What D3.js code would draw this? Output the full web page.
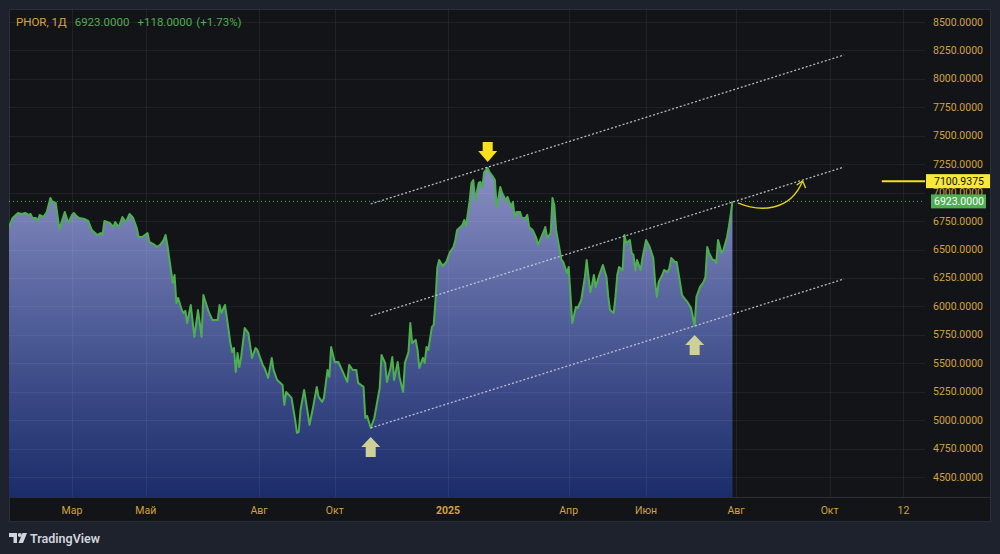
<!DOCTYPE html>
<html>
<head>
<meta charset="utf-8">
<script src="https://cdn.jsdelivr.net/npm/d3@7"></script>
<style>
  body { margin: 0; background: #1e222d; }
  svg { display: block; font-family: Roboto, "Noto Sans", sans-serif; }
</style>
</head>
<body>
<div id="chart"></div>
<script>
// PHOR daily chart with channel

// Data (bar index from the left edge, close price)

var bars = [0, 2, 5, 7, 9, 11, 12, 13, 15, 16, 17, 19, 21, 23, 24, 26, 28, 31, 33, 35, 36, 38, 39, 42, 44, 46, 49, 51, 52, 53,
    56, 58, 59, 61, 63, 65, 67, 69, 71, 72, 74, 77, 78, 81, 82, 84, 86, 87, 88, 91, 92, 93, 94, 96, 97, 98, 99, 101, 103, 105,
    106, 107, 108, 111, 113, 116, 117, 118, 120, 121, 123, 124, 125, 126, 127, 128, 129, 131, 133, 135, 137, 138, 141, 142, 144, 146, 147, 149, 152, 153,
    154, 157, 159, 160, 161, 162, 164, 166, 167, 169, 171, 172, 174, 175, 177, 178, 179, 181, 183, 185, 188, 189, 191, 193, 194, 197, 198, 199, 201, 203,
    206, 207, 209, 210, 212, 213, 214, 216, 217, 219, 220, 222, 223, 224, 226, 227, 228, 230, 231, 232, 233, 235, 236, 237, 238, 239, 241, 243, 245, 247,
    248, 249, 252, 253, 254, 256, 257, 258, 259, 261, 262, 263, 264, 266, 267, 269, 270, 271, 273, 274, 276, 277, 279, 280, 281, 282, 284, 285, 287, 288,
    289, 291, 293, 294, 297, 298, 299, 301, 302, 303, 304, 306, 307, 308, 310, 311, 313, 314, 315, 316, 318, 320, 321, 323, 324, 325, 326, 328, 330, 332,
    333, 334, 336, 337, 338, 339, 341, 342, 343, 345, 346, 347, 348, 349, 351, 352, 354, 356, 358, 359, 360, 361, 363, 364, 366, 367, 368, 370, 371, 374,
    376, 377, 379, 381, 382, 384, 386, 387, 388, 389, 391, 392, 393, 394, 396, 397, 399, 400, 401, 402];

var closes = [6698, 6777, 6821, 6812, 6821, 6804, 6812, 6777, 6777, 6751, 6804, 6786, 6830, 6953, 6923, 6909, 6680, 6830, 6733, 6804, 6821, 6786, 6777, 6768, 6751, 6672, 6628, 6645, 6628, 6751,
    6733, 6698, 6742, 6698, 6786, 6742, 6812, 6777, 6689, 6610, 6610, 6645, 6566, 6540, 6522, 6540, 6584, 6628, 6540, 6206, 6276, 6030, 6074, 5968, 5942, 5960, 5854, 6012, 5731, 5968,
    5854, 5731, 6100, 5951, 5881, 5881, 6012, 5942, 6012, 5907, 5678, 5599, 5634, 5423, 5590, 5467, 5555, 5810, 5766, 5547, 5634, 5617, 5485, 5459, 5371, 5547, 5441, 5353, 5309, 5133,
    5248, 5195, 5002, 4887, 4896, 5089, 5265, 5063, 4958, 5116, 5292, 5204, 5160, 5195, 5441, 5380, 5643, 5511, 5511, 5441, 5336, 5485, 5441, 5441, 5327, 5292, 5019, 5037, 4931, 5019,
    5283, 5573, 5503, 5336, 5459, 5555, 5353, 5511, 5380, 5248, 5503, 5599, 5854, 5678, 5705, 5617, 5459, 5547, 5503, 5643, 5617, 5819, 5837, 6056, 6338, 6408, 6355, 6390, 6478, 6522,
    6584, 6672, 6716, 6760, 6707, 6935, 7085, 7111, 6935, 7085, 7094, 7041, 7181, 7217, 7181, 7138, 7111, 6865, 7050, 6997, 6935, 6962, 6874, 6918, 6786, 6830, 6830, 6777, 6777, 6804,
    6698, 6672, 6601, 6540, 6654, 6698, 6601, 6645, 6953, 6891, 6672, 6496, 6408, 6390, 6294, 6346, 5854, 5925, 5995, 5986, 6056, 6259, 6408, 6127, 6188, 6276, 6171, 6276, 6364, 6259,
    6083, 5968, 5942, 6083, 6276, 6346, 6320, 6628, 6557, 6584, 6470, 6452, 6320, 6408, 6320, 6426, 6584, 6522, 6426, 6215, 6083, 6215, 6276, 6320, 6302, 6338, 6426, 6390, 6390, 6100,
    6056, 6039, 5986, 5828, 6083, 6171, 6215, 6259, 6522, 6470, 6408, 6408, 6382, 6584, 6470, 6496, 6610, 6700, 6805, 6923];

var priceTicks = [4500, 4750, 5000, 5250, 5500, 5750, 6000, 6250, 6500, 6750, 7000, 7250, 7500, 7750, 8000, 8250, 8500];
var timeTicks = [35, 76, 139, 181, 244, 311, 354, 404, 456, 497];
var timeLabels = ["Мар", "Май", "Авг", "Окт", "2025", "Апр", "Июн", "Авг", "Окт", "12"];

// Channel drawn on the chart (start / end bar, prices)
var channelBars = [201, 464];
var upperLine = [6900, 8210];
var middleLine = [5916, 7225];
var lowerLine = [4931, 6241];

var lastPrice = 6923;
var change = 118;
var changePct = 1.73;
var levelPrice = 7100.9375;
var levelStartBar = 485;

// Marker anchors
var downArrow = {bar: 266, price: 7269};
var upArrows = [{bar: 201, price: 4852}, {bar: 381, price: 5749}];
var curveBars = [405, 417, 434, 441];
var curvePrices = [6909, 6830, 6830, 7102];

// Chart variables

var width = 1000;
var height = 554;
var pane = {left: 9, top: 9, right: 925, bottom: 497};

var gold = "#d1a33f";
var green = "#4caf50";

var svg = d3.select("#chart")
    .append("svg")
    .attr("width", width)
    .attr("height", height);

svg.append("rect")
    .attr("width", width)
    .attr("height", height)
    .attr("fill", "#1e222d");

// Chart frame
svg.append("rect")
    .attr("x", 9.5)
    .attr("y", 9.5)
    .attr("width", 981)
    .attr("height", 512)
    .attr("fill", "#131417")
    .attr("stroke", "#2a2e39");

var defs = svg.append("defs");

defs.append("clipPath")
    .attr("id", "pane-clip")
    .append("rect")
    .attr("x", pane.left)
    .attr("y", pane.top)
    .attr("width", pane.right - pane.left)
    .attr("height", pane.bottom - pane.top);

var grad = defs.append("linearGradient")
    .attr("id", "area-grad")
    .attr("gradientUnits", "userSpaceOnUse")
    .attr("x1", 0).attr("x2", 0)
    .attr("y1", 165).attr("y2", pane.bottom);
grad.append("stop").attr("offset", "0%").attr("stop-color", "#8a8fc4");
grad.append("stop").attr("offset", "50%").attr("stop-color", "#4d5b96");
grad.append("stop").attr("offset", "100%").attr("stop-color", "#1b2c6a");

// Scales

var x = d3.scaleLinear()
    .domain([0, 509])
    .range([pane.left, pane.right]);

var y = d3.scaleLinear()
    .domain([4500, 8500])
    .range([477, 22]);

var data = bars.map(function(b, i) { return {bar: b, close: closes[i]}; });

var plot = svg.append("g").attr("clip-path", "url(#pane-clip)");

// Area and line

plot.append("path")
    .datum(data)
    .attr("fill", "url(#area-grad)")
    .attr("d", d3.area()
        .x(function(d) { return x(d.bar); })
        .y0(pane.bottom)
        .y1(function(d) { return y(d.close); }));

// Grid on top of the fill, faint
var grid = plot.append("g");

grid.selectAll(".hgrid")
    .data(priceTicks)
    .enter()
    .append("line")
    .attr("x1", pane.left)
    .attr("x2", pane.right)
    .attr("y1", function(d) { return Math.round(y(d)) + 0.5; })
    .attr("y2", function(d) { return Math.round(y(d)) + 0.5; })
    .attr("stroke", "rgba(255,255,255,0.06)");

grid.selectAll(".vgrid")
    .data(timeTicks)
    .enter()
    .append("line")
    .attr("x1", function(d) { return Math.round(x(d)) + 0.5; })
    .attr("x2", function(d) { return Math.round(x(d)) + 0.5; })
    .attr("y1", pane.top)
    .attr("y2", pane.bottom)
    .attr("stroke", "rgba(255,255,255,0.06)");

plot.append("path")
    .datum(data)
    .attr("fill", "none")
    .attr("stroke", green)
    .attr("stroke-width", 2)
    .attr("stroke-linejoin", "round")
    .attr("d", d3.line()
        .x(function(d) { return x(d.bar); })
        .y(function(d) { return y(d.close); }));

// Last price dotted line
plot.append("line")
    .attr("x1", pane.left)
    .attr("x2", pane.right)
    .attr("y1", y(lastPrice))
    .attr("y2", y(lastPrice))
    .attr("stroke", green)
    .attr("stroke-dasharray", "1,3");

// Channel lines
[upperLine, middleLine, lowerLine].forEach(function(ln) {
    plot.append("line")
        .attr("x1", x(channelBars[0]))
        .attr("y1", y(ln[0]))
        .attr("x2", x(channelBars[1]))
        .attr("y2", y(ln[1]))
        .attr("stroke", "#d0d4de")
        .attr("stroke-opacity", 0.85)
        .attr("stroke-width", 1.3)
        .attr("stroke-dasharray", "2,2");
});

// Horizontal level line
plot.append("line")
    .attr("x1", x(levelStartBar))
    .attr("x2", pane.right)
    .attr("y1", y(levelPrice))
    .attr("y2", y(levelPrice))
    .attr("stroke", "#f5e11b")
    .attr("stroke-width", 2);

// Curved arrow
var cx = curveBars.map(x);
var cy = curvePrices.map(y);
plot.append("path")
    .attr("d", "M" + cx[0] + "," + cy[0] + " C" + cx[1] + "," + cy[1] + " " + cx[2] + "," + cy[2] + " " + cx[3] + "," + cy[3])
    .attr("fill", "none")
    .attr("stroke", "#e3cf1a")
    .attr("stroke-width", 1.4);
plot.append("path")
    .attr("d", "M" + (cx[3] - 6) + "," + (cy[3] + 4) + " L" + cx[3] + "," + cy[3] + " L" + (cx[3] + 3) + "," + (cy[3] + 7))
    .attr("fill", "none")
    .attr("stroke", "#e3cf1a")
    .attr("stroke-width", 1.4);

// Block arrows
var ax = x(downArrow.bar), ay = y(downArrow.price);
plot.append("path")
    .attr("d", "M" + ax + "," + ay + " l-9.5,-11 h4.5 v-9 h10 v9 h4.5 z")
    .attr("fill", "#f7e01c");

upArrows.forEach(function(a) {
    var px = x(a.bar), py = y(a.price);
    plot.append("path")
        .attr("d", "M" + px + "," + py + " l9.5,10 h-4.5 v10 h-10 v-10 h-4.5 z")
        .attr("fill", "#cfcf98");
});

// Separator above the time axis
svg.append("line")
    .attr("x1", pane.left)
    .attr("x2", 991)
    .attr("y1", pane.bottom + 0.5)
    .attr("y2", pane.bottom + 0.5)
    .attr("stroke", "#2a2e39");

// Price axis labels
svg.append("g")
    .selectAll("text")
    .data(priceTicks)
    .enter()
    .append("text")
    .attr("x", 933)
    .attr("y", function(d) { return y(d); })
    .attr("dominant-baseline", "central")
    .attr("font-size", "10.5px")
    .attr("fill", gold)
    .text(function(d) { return d.toFixed(4); });

// Level label
svg.append("rect")
    .attr("x", 926)
    .attr("y", y(levelPrice) - 7)
    .attr("width", 64)
    .attr("height", 14)
    .attr("fill", "#f7e83a");
svg.append("text")
    .attr("x", 934)
    .attr("y", y(levelPrice))
    .attr("dominant-baseline", "central")
    .attr("font-size", "10.5px")
    .attr("fill", "#131417")
    .text(levelPrice.toFixed(4));

// Last price label
svg.append("rect")
    .attr("x", 931)
    .attr("y", y(lastPrice) - 7)
    .attr("width", 55)
    .attr("height", 14)
    .attr("fill", green);
svg.append("text")
    .attr("x", 934)
    .attr("y", y(lastPrice))
    .attr("dominant-baseline", "central")
    .attr("font-size", "10.5px")
    .attr("fill", "#ffffff")
    .text(lastPrice.toFixed(4));

// Time axis labels
svg.append("g")
    .selectAll("text")
    .data(timeTicks)
    .enter()
    .append("text")
    .attr("x", function(d) { return x(d); })
    .attr("y", 510)
    .attr("text-anchor", "middle")
    .attr("dominant-baseline", "central")
    .attr("font-size", "10.5px")
    .attr("font-weight", function(d, i) { return timeLabels[i] === "2025" ? "bold" : "normal"; })
    .attr("fill", gold)
    .text(function(d, i) { return timeLabels[i]; });

// Header
var header = svg.append("text")
    .attr("x", 16)
    .attr("y", 26)
    .attr("font-size", "11.5px");
header.append("tspan").attr("fill", "#d9a33c").text("PHOR, 1Д");
header.append("tspan").attr("dx", 8).attr("fill", green).text(lastPrice.toFixed(4));
header.append("tspan").attr("dx", 8).attr("fill", green).text("+" + change.toFixed(4));
header.append("tspan").attr("dx", 4).attr("fill", green).text("(+" + changePct.toFixed(2) + "%)");

// TradingView logo
var logo = svg.append("g").attr("fill", "#d1d4dc");
logo.append("path").attr("d", "M9,533 h8 v10 h-3.5 v-6 h-4.5 z");
logo.append("circle").attr("cx", 19.8).attr("cy", 535).attr("r", 2);
logo.append("path").attr("d", "M22.5,533 h4.5 l-4,10 h-4.5 z");
svg.append("text")
    .attr("x", 30)
    .attr("y", 543)
    .attr("font-size", "12.5px")
    .attr("font-weight", 600)
    .attr("fill", "#d1d4dc")
    .text("TradingView");
</script>
</body>
</html>
